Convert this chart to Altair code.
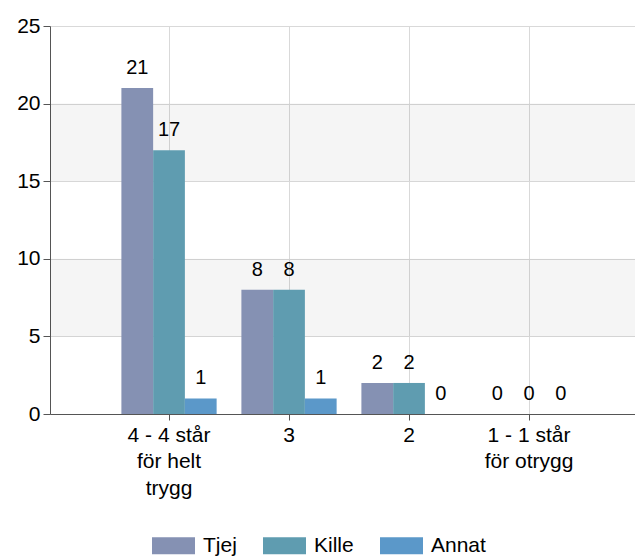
import altair as alt
import pandas as pd

categories = ["4 - 4 står\nför helt\ntrygg", "3", "2", "1 - 1 står\nför otrygg"]
series = ["Tjej", "Kille", "Annat"]
tjej = [21, 8, 2, 0]
kille = [17, 8, 2, 0]
annat = [1, 1, 0, 0]
colors = ["#8591B3", "#5F9CB0", "#5B98C9"]
band_lo = [5, 15]
band_hi = [10, 20]

rows = []
for s, vals in zip(series, [tjej, kille, annat]):
    for c, v in zip(categories, vals):
        rows.append({"cat": c, "serie": s, "value": v})
df = pd.DataFrame(rows)
bands = pd.DataFrame({"lo": band_lo, "hi": band_hi})

FONT = "Liberation Sans"
W, H = 585, 388

x_enc = alt.X(
    "cat:N",
    sort=categories,
    scale=alt.Scale(paddingInner=0, paddingOuter=0.4375, align=0.562),
    axis=alt.Axis(
        title=None,
        labelAngle=0,
        labelExpr="split(datum.label, '\\n')",
        labelLineHeight=26.5,
        labelBaseline="top",
        labelFontSize=21,
        labelPadding=4,
        labelColor="#000",
        labelFont=FONT,
        bandPosition=0.5,
        grid=True,
        gridColor="#d9d9d9",
        tickSize=6,
        tickColor="#555",
        domainColor="#555",
        labelLimit=0,
    ),
)
y_enc = alt.Y(
    "value:Q",
    scale=alt.Scale(domain=[0, 25], nice=False),
    axis=alt.Axis(
        title=None,
        values=[0, 5, 10, 15, 20, 25],
        labelFontSize=21,
        labelFont=FONT,
        labelColor="#000",
        labelPadding=3,
        tickSize=7,
        tickColor="#555",
        domainColor="#555",
        grid=True,
        gridColor="#d9d9d9",
    ),
)
xo = alt.XOffset("serie:N", sort=series, scale=alt.Scale(paddingOuter=0.39, paddingInner=0))

band_layer = alt.Chart(bands).mark_rect(fill="#000", opacity=0.04).encode(
    y=alt.Y("lo:Q"), y2="hi:Q"
)

bars = alt.Chart(df).mark_bar().encode(
    x=x_enc,
    xOffset=xo,
    y=y_enc,
    color=alt.Color(
        "serie:N",
        sort=series,
        scale=alt.Scale(domain=series, range=colors),
        legend=alt.Legend(
            title=None,
            orient="none",
            direction="horizontal",
            legendX=102,
            legendY=498,
            symbolType="M-1,-0.4H1V0.4H-1Z",
            symbolSize=1849,
            symbolStrokeWidth=0,
            symbolOpacity=1,
            labelFontSize=21,
            labelFont=FONT,
            labelColor="#000",
            labelOffset=8,
            columnPadding=26,
        ),
    ),
)

labels = alt.Chart(df).mark_text(
    fontSize=20, font=FONT, color="#000", baseline="alphabetic", dy=-14
).encode(
    x=alt.X("cat:N", sort=categories),
    xOffset=xo,
    y=alt.Y("value:Q"),
    text="value:Q",
)

chart = (
    alt.layer(band_layer, bars, labels)
    .properties(
        width=W,
        height=H,
        autosize=alt.AutoSizeParams(type="none"),
        padding={"left": 42, "top": 18, "right": 0, "bottom": 145},
    )
    .configure_view(strokeOpacity=0)
)

chart.save("out.html", embed_options={"renderer": "svg", "actions": False})
